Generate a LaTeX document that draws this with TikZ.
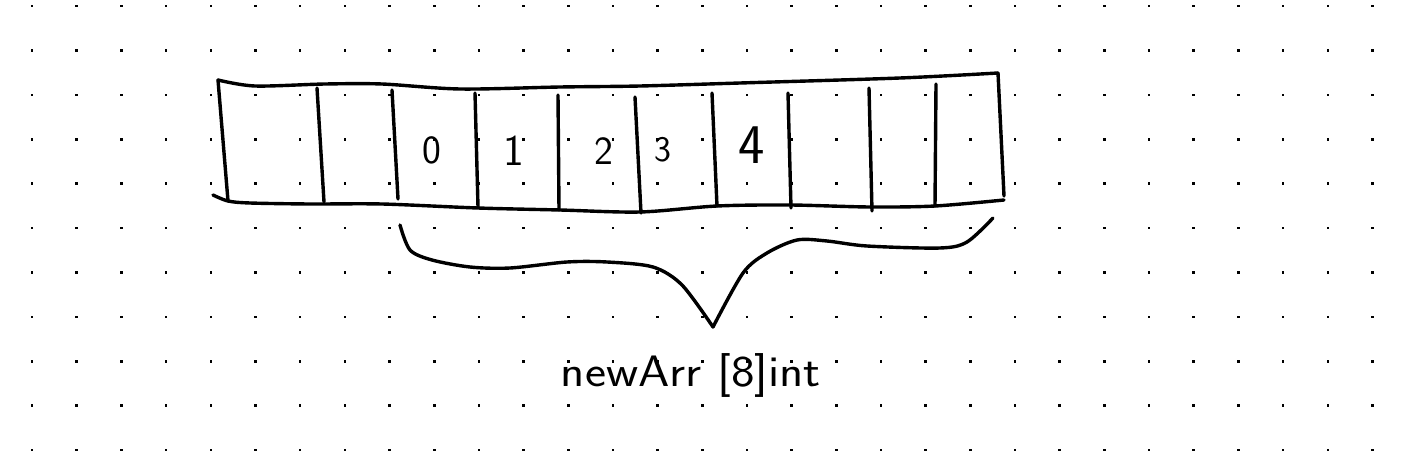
\documentclass[tikz,border=0pt]{standalone}
\usetikzlibrary{positioning}

\tikzset{
  pen/.style={line width=3.4pt, line cap=round, line join=round},
  digit/.style={font=\sffamily\fontsize{40}{44}\selectfont, inner sep=0pt},
  gridnub/.style={fill=black}
}

\begin{document}
\begin{tikzpicture}[x=1pt,y=-1pt]
            \useasboundingbox (0,0) rectangle (1403,452);

            % dotted paper
            \foreach \i in {0,...,30}
              \foreach \j in {0,...,10}
                \fill[gridnub] ({30.8+\i*44.68},{4.8+\j*44.4}) rectangle ++(2.6,2.6);

            \coordinate (TL) at (218,80);
            \coordinate (TR) at (998,73);
            \coordinate (BL) at (228,201);
            \coordinate (BR) at (1004,196);

            \draw[pen] plot[smooth] coordinates {(TL) (255,86) (325,84) (382,84)
               (460,89) (560,87) (640,86) (740,83) (900,78) (TR)};
            \draw[pen] plot[smooth] coordinates {(213,195) (BL) (250,203) (310,204)
               (382,204) (478,208) (560,210) (640,212) (717,206) (790,205)
               (870,207) (935,206) (1004,200)};
            \draw[pen] (TL) -- (BL);
            \draw[pen] (TR) -- (BR);

            \foreach \xa/\ya/\xb/\yb in {317/88/324/202, 392/90/398/199,
               475/93/478/207, 558/95/559/210, 635/97/641/213, 712/93/717/206,
               788/93/791/208, 869/88/872/211, 936/84/935/206}
              \draw[pen] (\xa,\ya) -- (\xb,\yb);

            \node[digit] (d0) at (432,150) {0};
            \node[digit, font=\sffamily\fontsize{44}{48}\selectfont] (d1) at (514,151) {1};
            \node[digit] (d2) at (604,151) {2};
            \node[digit, font=\sffamily\fontsize{36}{40}\selectfont] (d3) at (663,150) {3};
            \node[digit, font=\sffamily\fontsize{56}{60}\selectfont] (d4) at (752,145) {4};

            % brace under the slice
            \draw[pen] plot[smooth] coordinates {(400,225) (410,250) (432,260)
               (470,267) (510,268) (567,262) (607,262) (653,267) (682,285) (713,327)};
            \draw[pen] plot[smooth] coordinates {(713,327) (743,273) (767,253)
               (797,240) (827,241) (867,246) (940,248) (967,242) (993,218)};

            \node[font=\sffamily\fontsize{44}{48}\selectfont, inner sep=0pt, xscale=1.14] (slice) at (691,375) {newArr [8]int};
        \end{tikzpicture}
\end{document}
